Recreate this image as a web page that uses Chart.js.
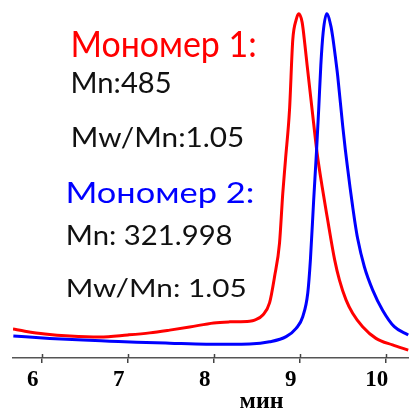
<!DOCTYPE html>
<html>
<head>
<meta charset="utf-8">
<script src="https://cdn.jsdelivr.net/npm/chart.js@4/dist/chart.umd.min.js"></script>
<style>
  html, body { margin: 0; padding: 0; background: #fff; }
  #wrap { width: 409px; height: 408px; position: relative; }
</style>
</head>
<body>
<div id="wrap"><canvas id="c" width="409" height="408"></canvas></div>
<script>
// Elution time (min) and detector signal for monomer 1 (red trace)
const redTime = [5.667, 5.806, 6.038, 6.328, 6.676, 7.001, 7.256, 7.488, 7.720, 8.0, 8.186, 8.417, 8.476, 8.571, 8.649, 8.707, 8.765, 8.803, 8.834, 8.881, 8.919, 8.958, 8.988, 9.028, 9.060, 9.086, 9.144, 9.202, 9.260, 9.318, 9.406, 9.461, 9.538, 9.615, 9.731, 9.886, 10.079, 10.261];
const redSignal = [8.4, 7.8, 7.0, 6.4, 6.1, 6.7, 7.3, 8.1, 9.0, 10.2, 10.5, 10.7, 11.0, 12.5, 16.0, 23.6, 33.4, 47.9, 57.5, 72.0, 92.4, 98.2, 100, 97.5, 91.0, 85.0, 72.1, 59.5, 49.8, 41.1, 28.5, 22.7, 16.9, 13.0, 9.1, 5.7, 3.8, 2.3];

// Elution time (min) and detector signal for monomer 2 (blue trace)
const blueTime = [5.671, 6.096, 6.483, 6.792, 7.102, 7.488, 7.914, 8.417, 8.649, 8.842, 8.958, 9.035, 9.093, 9.124, 9.162, 9.194, 9.220, 9.245, 9.272, 9.313, 9.364, 9.383, 9.414, 9.441, 9.499, 9.530, 9.557, 9.585, 9.615, 9.638, 9.673, 9.751, 9.847, 9.963, 10.099, 10.261];
const blueSignal = [6.4, 5.7, 5.2, 4.9, 4.6, 4.3, 4.0, 4.1, 4.7, 6.2, 8.6, 12.0, 18.8, 28.5, 45.9, 59.6, 72.1, 85.0, 94.5, 100, 96.2, 93.3, 87.5, 82.0, 67.5, 60.5, 55.0, 49.5, 44.0, 40.0, 34.7, 26.5, 19.8, 13.9, 9.1, 6.7];

// Axis ticks and caption
const xTicks = [6, 7, 8, 9, 10];
const xTitle = 'мин';

// Annotation text
const noteLines = ['Мономер 1:', 'Mn:485', 'Mw/Mn:1.05', 'Мономер 2:', 'Mn: 321.998', 'Mw/Mn: 1.05'];

const toPoints = (xs, ys) => xs.map((x, i) => ({ x, y: ys[i] }));

// Each note: ink box left/right, cap top and baseline
const noteLayout = [
  { l: 73, r: 255, top: 30, base: 56.7, color: '#ff0000' },
  { l: 72.7, r: 170, top: 71.7, base: 92.7, color: '#111' },
  { l: 73, r: 242.7, top: 126.7, base: 146.7, color: '#111' },
  { l: 68, r: 252.7, top: 181.7, base: 203.3, color: '#0000ff' },
  { l: 68, r: 231.7, top: 225, base: 245, color: '#111' },
  { l: 68, r: 245, top: 278.3, base: 296.7, color: '#111' }
];

const notesPlugin = {
  id: 'notes',
  afterDraw(chart) {
    const ctx = chart.ctx;
    ctx.save();
    ctx.textBaseline = 'alphabetic';
    ctx.textAlign = 'left';
    noteLines.forEach((text, i) => {
      const b = noteLayout[i];
      ctx.font = '40px Lato';
      const cap = ctx.measureText('M').actualBoundingBoxAscent;
      const m = ctx.measureText(text);
      const inkW = m.actualBoundingBoxRight + m.actualBoundingBoxLeft;
      const sx = (b.r - b.l) / inkW;
      const sy = (b.base - b.top) / cap;
      ctx.save();
      ctx.translate(b.l, b.base);
      ctx.scale(sx, sy);
      ctx.fillStyle = b.color;
      ctx.fillText(text, m.actualBoundingBoxLeft, 0);
      ctx.restore();
    });

    // tick marks rising above the axis line, and the axis caption
    const xs = chart.scales.x;
    const yAxis = chart.chartArea.bottom;
    ctx.strokeStyle = '#444';
    ctx.lineWidth = 1.5;
    xTicks.forEach(v => {
      const px = Math.round(xs.getPixelForValue(v)) + 0.5;
      ctx.beginPath();
      ctx.moveTo(px, yAxis - 4);
      ctx.lineTo(px, yAxis);
      ctx.stroke();
    });
    ctx.fillStyle = '#000';
    ctx.font = 'bold 24px "Liberation Serif"';
    ctx.textAlign = 'center';
    ctx.fillText(xTitle, xs.getPixelForValue(8.556), 408);
    ctx.restore();
  }
};

new Chart(document.getElementById('c'), {
  type: 'line',
  data: {
    datasets: [
      {
        label: 'Мономер 2',
        data: toPoints(blueTime, blueSignal),
        borderColor: '#0000ff',
        borderWidth: 3,
        pointRadius: 0,
        cubicInterpolationMode: 'monotone',
        fill: false
      },
      {
        label: 'Мономер 1',
        data: toPoints(redTime, redSignal),
        borderColor: '#ff0000',
        borderWidth: 3,
        pointRadius: 0,
        cubicInterpolationMode: 'monotone',
        fill: false
      }
    ]
  },
  options: {
    responsive: false,
    animation: false,
    devicePixelRatio: 1,
    layout: { padding: { left: 13, right: 0, top: 0, bottom: 0 } },
    plugins: { legend: { display: false }, tooltip: { enabled: false } },
    scales: {
      x: {
        type: 'linear',
        min: 5.667,
        max: 10.27,
        afterBuildTicks: (s) => { s.ticks = xTicks.map(v => ({ value: v })); },
        afterFit: (s) => { s.height = 50; },
        border: { display: true, color: '#555', width: 1.5 },
        grid: { display: true, drawOnChartArea: false, drawTicks: true, tickLength: 5, color: '#444', lineWidth: 1.5 },
        ticks: {
          color: '#000',
          padding: 3,
          labelOffset: -9,
          maxRotation: 0,
          font: { family: '"Liberation Serif"', weight: 'bold', size: 23 }
        }
      },
      y: {
        display: false,
        min: 0,
        max: 104
      }
    }
  },
  plugins: [notesPlugin]
});
</script>
</body>
</html>
